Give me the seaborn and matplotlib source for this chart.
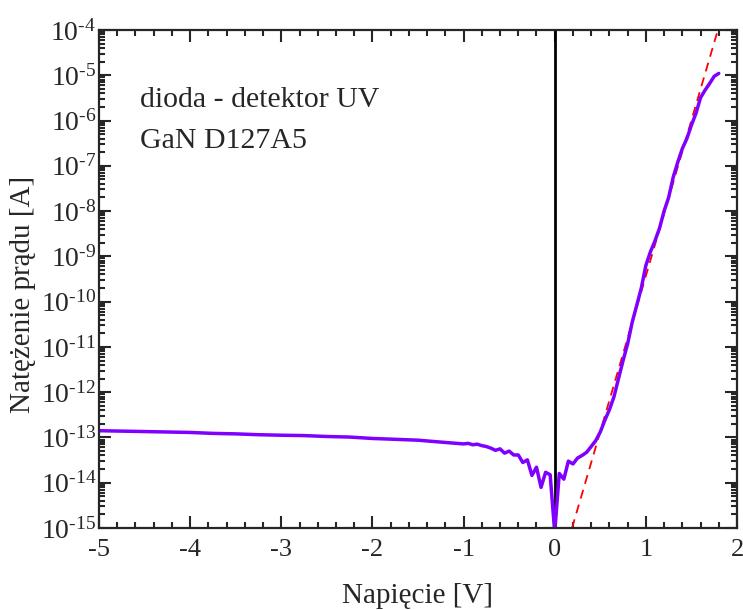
import numpy as np
import pandas as pd
import seaborn as sns
import matplotlib.pyplot as plt
from matplotlib.ticker import LogLocator, MultipleLocator, NullFormatter, FuncFormatter

# I-V characteristic of GaN diode (UV detector)
voltage = [-5.0, -4.75, -4.5, -4.25, -4.0, -3.75, -3.5, -3.25, -3.0, -2.75,
           -2.5, -2.25, -2.0, -1.75, -1.5, -1.25, -1.0, -0.95, -0.9, -0.85,
           -0.8, -0.75, -0.7, -0.65, -0.6, -0.55, -0.5, -0.45, -0.4, -0.35,
           -0.3, -0.25, -0.2, -0.15, -0.1, -0.05, 0.0, 0.05, 0.1, 0.15,
           0.2, 0.25, 0.3, 0.35, 0.4, 0.45, 0.5, 0.55, 0.6, 0.65,
           0.7, 0.75, 0.8, 0.85, 0.9, 0.95, 1.0, 1.05, 1.1, 1.15,
           1.2, 1.25, 1.3, 1.35, 1.4, 1.45, 1.5, 1.55, 1.6, 1.65,
           1.7, 1.75, 1.8]
current = [1.41e-13, 1.38e-13, 1.35e-13, 1.32e-13, 1.29e-13, 1.23e-13, 1.20e-13, 1.15e-13, 1.12e-13, 1.10e-13,
           1.05e-13, 1.02e-13, 9.5e-14, 9.1e-14, 8.7e-14, 7.9e-14, 7.2e-14, 7.4e-14, 6.9e-14, 7.1e-14,
           6.6e-14, 6.3e-14, 5.8e-14, 5.2e-14, 5.6e-14, 4.5e-14, 5.0e-14, 4.1e-14, 4.1e-14, 2.8e-14,
           3.2e-14, 1.45e-14, 2.2e-14, 7.9e-15, 1.7e-14, 1.5e-14, 8e-16, 1.6e-14, 1.2e-14, 3.0e-14,
           2.6e-14, 3.5e-14, 4.0e-14, 4.7e-14, 6.3e-14, 8.5e-14, 1.32e-13, 2.4e-13, 4.1e-13, 7.9e-13,
           2.0e-12, 5.0e-12, 1.17e-11, 3.5e-11, 8.3e-11, 2.0e-10, 6.3e-10, 1.26e-9, 2.2e-9, 4.2e-9,
           1.0e-8, 2.0e-8, 5.6e-8, 1.2e-7, 2.4e-7, 4.0e-7, 7.9e-7, 1.45e-6, 3.2e-6, 4.7e-6,
           6.6e-6, 9.5e-6, 1.1e-5]

# exponential fit (red dashed line)
fit_voltage = [0.19, 1.79]
fit_current = [1e-15, 1e-4]

df = pd.DataFrame({"V": voltage, "I": current})
fit = pd.DataFrame({"V": fit_voltage, "I": fit_current})

sns.set_style("ticks")
plt.rcParams['font.family'] = ['Liberation Serif', 'DejaVu Serif']
plt.rcParams['mathtext.fontset'] = 'custom'
plt.rcParams['mathtext.rm'] = 'Liberation Serif'
plt.rcParams['mathtext.it'] = 'Liberation Serif:italic'
plt.rcParams['axes.unicode_minus'] = False

fig = plt.figure(figsize=(7.43, 6.10), dpi=100)
ax = fig.add_axes([99 / 743, 82 / 610, 638 / 743, 498 / 610])

ax.axvline(0, color="black", lw=2)
sns.lineplot(data=fit, x="V", y="I", ax=ax, color="#ff0000", lw=1.3,
             linestyle=(0, (5, 3.5)), estimator=None)
sns.lineplot(data=df, x="V", y="I", ax=ax, color="#7f00ff", lw=2.5,
             estimator=None, sort=False)

ax.set_yscale("log")
ax.set_xlim(-5, 2)
ax.set_ylim(1e-15, 1e-4)


def pow10(val, pos):
    n = int(round(np.log10(val)))
    return r"$10^{\text{-}%d}$" % abs(n)


ax.xaxis.set_major_locator(MultipleLocator(1))
ax.xaxis.set_minor_locator(MultipleLocator(0.2))
ax.yaxis.set_major_locator(LogLocator(base=10, numticks=20))
ax.yaxis.set_minor_locator(LogLocator(base=10, subs=np.arange(2, 10), numticks=20))
ax.yaxis.set_major_formatter(FuncFormatter(pow10))
ax.yaxis.set_minor_formatter(NullFormatter())

ax.tick_params(which="both", direction="in", top=True, right=True, width=1.5)
ax.tick_params(which="major", length=8.5)
ax.tick_params(axis="x", which="major", pad=8, labelsize=19)
ax.tick_params(axis="y", which="major", pad=2, labelsize=20)
ax.tick_params(which="minor", length=4.5)
for s in ax.spines.values():
    s.set_linewidth(1.6)

ax.set_xlabel("Napięcie [V]", fontsize=21, labelpad=16)
ax.set_ylabel("Natężenie prądu [A]", fontsize=21)
ax.yaxis.set_label_coords(-0.098, 0.468)

ax.text(0.064, 0.845, "dioda - detektor UV", transform=ax.transAxes, fontsize=21.5)
ax.text(0.064, 0.763, "GaN D127A5", transform=ax.transAxes, fontsize=21.5)

fig.savefig("out.png", dpi=100)
